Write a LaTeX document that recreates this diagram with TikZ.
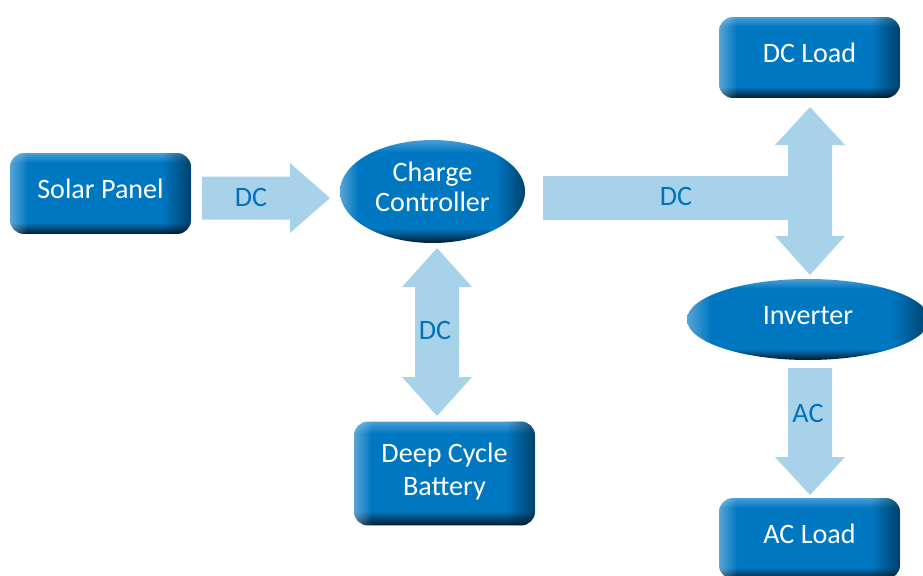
\documentclass[tikz,border=0pt]{standalone}
\usepackage{fontspec}
\setmainfont{Carlito}
\usepackage{tikz}
\usetikzlibrary{shapes,positioning,calc,fadings}

\definecolor{btnblue}{RGB}{0,119,193}
\definecolor{btndark}{RGB}{0,28,48}
\definecolor{btnlight}{RGB}{120,185,228}
\definecolor{arrowblue}{RGB}{168,210,234}
\definecolor{labelblue}{RGB}{0,114,188}

% button look: light top, dark bottom, dark right edge
\pgfdeclareverticalshading{btnshade}{100bp}{color(0bp)=(btndark); color(25bp)=(btndark); color(32bp)=(btnblue); color(69bp)=(btnblue); color(75bp)=(btnlight!60!btnblue); color(100bp)=(btnlight!60!btnblue)}
\pgfdeclarehorizontalshading{darkmask}{100bp}{color(0bp)=(black); color(67bp)=(black); color(75bp)=(white!60!black); color(100bp)=(white!60!black)}
\pgfdeclarefading{edgedark}{\pgfuseshading{darkmask}}
\pgfdeclarehorizontalshading{lightmask}{100bp}{color(0bp)=(white!35!black); color(25bp)=(white!35!black); color(30bp)=(black); color(100bp)=(black)}
\pgfdeclarefading{edgelight}{\pgfuseshading{lightmask}}

\newcommand\btnfont{\fontsize{16}{17}\selectfont}

\begin{document}
\begin{tikzpicture}[x=0.02cm,y=-0.02cm,
    btnbase/.style={shading=btnshade, text=white, font=\btnfont, align=center, text depth=5pt,
        postaction={fill=btndark, path fading=edgedark},
        postaction={fill=white, path fading=edgelight}},
    btnbox/.style={btnbase, rectangle, rounded corners=8pt, minimum width=3.62cm, minimum height=1.62cm},
    btnoval/.style={btnbase, ellipse, inner sep=0pt},
    flowlabel/.style={text=labelblue, font=\btnfont}]
    \clip (0,0) rectangle (923,575);

    % boxes
    \node[btnbox] (solar) at (100.5,193.5) {Solar Panel};
    \node[btnoval, minimum width=3.7cm, minimum height=2.06cm] (ctrl) at (432.5,191.5) {Charge\\Controller};
    \node[btnbox] (dcload) at (809.5,57.5) {DC Load};
    \node[btnoval, minimum width=4.84cm, minimum height=1.62cm] (inv) at (808,319.5) {Inverter};
    \node[btnbox, minimum height=2.08cm, font=\fontsize{16}{19}\selectfont] (battery) at (444.5,473.5) {Deep Cycle\\Battery};
    \node[btnbox] (acload) at (809.5,538.5) {AC Load};

    % block arrows
    \fill[arrowblue] (202,176.5) -- (290,176.5) -- (290,163) -- (330,198) -- (290,233) -- (290,219.5) -- (202,219.5) -- cycle;
    \fill[arrowblue] (437,248) -- (472,287) -- (459,287) -- (459,377) -- (472,377) -- (437,416)
        -- (402,377) -- (415,377) -- (415,287) -- (402,287) -- cycle;
    \fill[arrowblue] (543,176) rectangle (789,220);
    \fill[arrowblue] (810,107) -- (845,145) -- (832,145) -- (832,236) -- (845,236) -- (810,275)
        -- (775,236) -- (788,236) -- (788,145) -- (775,145) -- cycle;
    \fill[arrowblue] (788,368) -- (832,368) -- (832,457) -- (845,457) -- (810,495) -- (775,457) -- (788,457) -- cycle;

    % arrow labels
    \node[flowlabel] (dcsolar) at (251,197) {DC};
    \node[flowlabel] (dcbatt) at (435,330) {DC};
    \node[flowlabel] (dcbus) at (676,196) {DC};
    \node[flowlabel] (acout) at (808,413) {AC};
\end{tikzpicture}
\end{document}
